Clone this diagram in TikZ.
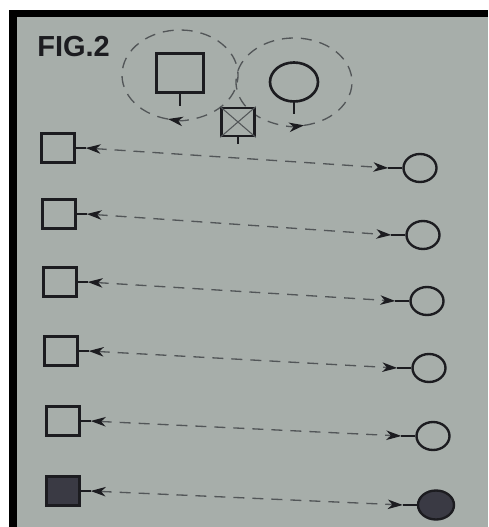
\documentclass[tikz,border=0pt]{standalone}
\usepackage{fontspec}
\newfontfamily\figfont{Liberation Sans}
\usepackage{xcolor}
\usetikzlibrary{arrows.meta,shapes.geometric}

\definecolor{paper}{RGB}{167,174,170}
\definecolor{ink}{RGB}{28,28,32}
\definecolor{dashink}{RGB}{82,86,88}
\definecolor{solidfill}{RGB}{58,58,68}

\begin{document}
\begin{tikzpicture}[
  x=0.02cm, y=-0.02cm,
  >={Stealth[length=0.3cm, width=0.19cm, inset=0.09cm, color=ink]},
  male/.style={rectangle, draw=ink, line width=1.35pt, fill=paper, inner sep=0pt, minimum width=0.66cm, minimum height=0.58cm},
  female/.style={ellipse, draw=ink, line width=1.35pt, fill=paper, inner sep=0pt, minimum width=0.66cm, minimum height=0.56cm},
  stem/.style={draw=ink, line width=1.35pt},
  link/.style={draw=dashink, line width=0.75pt, dash pattern=on 0.22cm off 0.16cm, <->},
  loopline/.style={draw=dashink, line width=0.75pt, dash pattern=on 0.22cm off 0.16cm, ->},
  crossline/.style={draw=dashink, line width=0.6pt},
  title/.style={anchor=base west, inner sep=0pt, text=ink, font=\figfont\bfseries\fontsize{16.5}{18}\selectfont}
]

% Frame
\useasboundingbox (0,0) rectangle (488,527);
\fill[white] (0,0) rectangle (488,527);
\fill[black] (9,10) rectangle (488,527);
\fill[paper] (17,17) rectangle (488,527);

\node[title] (fig) at (37,57) {FIG.2};

% Loops round the two parents
\coordinate (lc) at (180,75);
\coordinate (rc) at (294,82);
\draw[loopline] ([shift={(102:58 and 45)}]lc) arc[start angle=102, end angle=360, x radius=58, y radius=45]
  arc[start angle=0, end angle=102, x radius=58, y radius=45];
\draw[loopline] ([shift={(80:58 and 44)}]rc) arc[start angle=80, end angle=-180, x radius=58, y radius=44]
  arc[start angle=180, end angle=80, x radius=58, y radius=44];

% Parents and child
\node[male, line width=1.5pt, minimum width=0.94cm, minimum height=0.78cm] (father) at (180,73) {};
\node[female, line width=1.5pt, minimum width=0.96cm, minimum height=0.78cm] (mother) at (294,82) {};
\draw[stem] (father.south) -- ++(0,12);
\draw[stem] (mother.south) -- ++(0,11);
\node[male, line width=1.5pt, minimum width=0.66cm, minimum height=0.56cm] (child) at (238,122) {};
\draw[crossline] (child.north west) -- (child.south east);
\draw[crossline] (child.north east) -- (child.south west);
\draw[stem] (child.south) -- ++(0,7);

% Rows: square left, circle right
\node[male] (m1) at (58,148) {};
\node[female] (f1) at (420,168) {};
\node[male] (m2) at (59,214) {};
\node[female] (f2) at (423,235) {};
\node[male] (m3) at (60,282) {};
\node[female] (f3) at (427,301) {};
\node[male] (m4) at (61,351) {};
\node[female] (f4) at (429,368) {};
\node[male] (m5) at (63,421) {};
\node[female] (f5) at (433,436) {};
\node[male, fill=solidfill] (m6) at (63,491) {};
\node[female, fill=solidfill, minimum width=0.72cm, minimum height=0.58cm] (f6) at (436,505) {};

% Stems
\draw[stem] (m1.east) -- ++(10,0) coordinate (m1s);
\draw[stem] (f1.west) -- ++(-14,0) coordinate (f1s);
\draw[stem] (m2.east) -- ++(10,0) coordinate (m2s);
\draw[stem] (f2.west) -- ++(-14,0) coordinate (f2s);
\draw[stem] (m3.east) -- ++(10,0) coordinate (m3s);
\draw[stem] (f3.west) -- ++(-14,0) coordinate (f3s);
\draw[stem] (m4.east) -- ++(10,0) coordinate (m4s);
\draw[stem] (f4.west) -- ++(-14,0) coordinate (f4s);
\draw[stem] (m5.east) -- ++(10,0) coordinate (m5s);
\draw[stem] (f5.west) -- ++(-14,0) coordinate (f5s);
\draw[stem] (m6.east) -- ++(10,0) coordinate (m6s);
\draw[stem] (f6.west) -- ++(-14,0) coordinate (f6s);

% Dashed links
\draw[link] (m1s) -- (f1s);
\draw[link] (m2s) -- (f2s);
\draw[link] (m3s) -- (f3s);
\draw[link] (m4s) -- (f4s);
\draw[link] (m5s) -- (f5s);
\draw[link] (m6s) -- (f6s);

\end{tikzpicture}
\end{document}
